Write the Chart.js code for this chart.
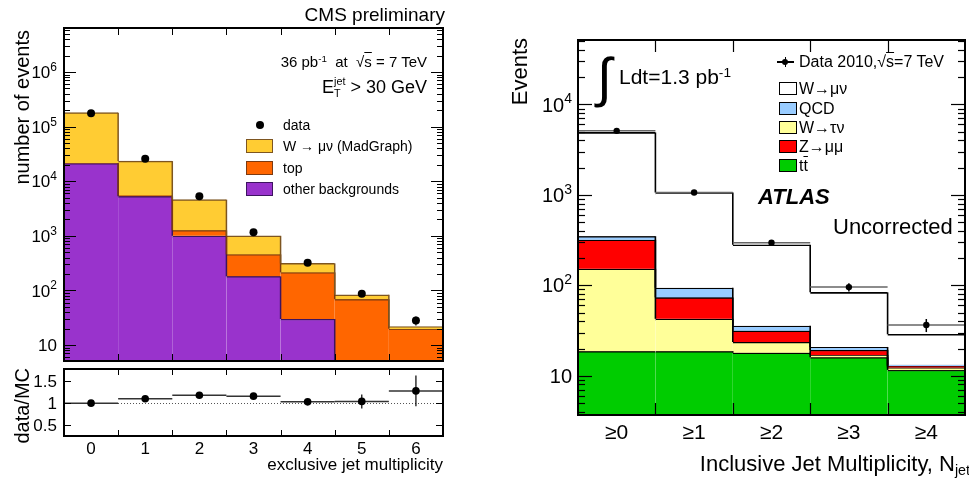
<!DOCTYPE html>
<html><head><meta charset="utf-8">
<script src="https://cdn.jsdelivr.net/npm/chart.js@4.4.1/dist/chart.umd.min.js"></script>
<style>
html,body{margin:0;padding:0;background:#fff;overflow:hidden;}
body{width:969px;height:480px;position:relative;font-family:"Liberation Sans",Arial,Helvetica,sans-serif;color:#000;}
canvas{position:absolute;left:0;top:0;}
.t{position:absolute;white-space:nowrap;line-height:1;}
.v{writing-mode:vertical-rl;transform:rotate(180deg);}
.sw{position:absolute;box-sizing:border-box;}
.sup{font-size:0.65em;position:relative;top:-0.55em;}
.ov{text-decoration:overline;}
</style></head><body>
<canvas id="cL" width="969" height="480"></canvas>
<canvas id="cRt" width="969" height="480"></canvas>
<canvas id="cR" width="969" height="480"></canvas>

<!-- left panel texts -->
<div class="t" style="right:524px;top:5px;font-size:19px">CMS preliminary</div>
<div class="t" style="right:542px;top:54px;font-size:15px">36 pb<span class="sup">-1</span>&nbsp; at &nbsp;√<span class="ov">s</span> = 7 TeV</div>
<div class="t" style="right:542px;top:78px;font-size:18px">E<span style="font-size:0.6em;position:relative;top:0.35em">T</span><span style="font-size:0.6em;position:relative;top:-0.75em;margin-left:-0.6em">jet</span> &gt; 30 GeV</div>
<div class="sw" style="left:256px;top:121px;width:8px;height:8px;border-radius:50%;background:#000"></div>
<div class="t" style="left:283px;top:118px;font-size:14px">data</div>
<div class="sw" style="left:246px;top:139px;width:27px;height:14px;background:#ffcc33;border:1.5px solid #7d5520"></div>
<div class="t" style="left:283px;top:139px;font-size:14px">W → μν (MadGraph)</div>
<div class="sw" style="left:246px;top:161px;width:27px;height:14px;background:#ff6600;border:1.5px solid #7d3a10"></div>
<div class="t" style="left:283px;top:161px;font-size:14px">top</div>
<div class="sw" style="left:246px;top:182px;width:27px;height:14px;background:#9933cc;border:1.5px solid #3d1460"></div>
<div class="t" style="left:283px;top:182px;font-size:14px">other backgrounds</div>
<div class="t v" style="left:12px;top:30px;font-size:20px">number of events</div>
<div class="t v" style="left:12px;top:368px;font-size:20px">data/MC</div>
<div class="t" style="right:526px;top:456px;font-size:17px">exclusive jet multiplicity</div>

<!-- right panel texts -->
<div class="t v" style="left:509px;top:38px;font-size:22px">Events</div>
<div class="t" style="left:597px;top:50px;font-size:54px">∫</div>
<div class="t" style="left:619px;top:66px;font-size:21px">Ldt=1.3 pb<span class="sup">-1</span></div>
<div class="sw" style="left:777px;top:61px;width:17px;height:1.5px;background:#000"></div>
<div class="sw" style="left:784.5px;top:57px;width:1.5px;height:10px;background:#000"></div>
<div class="sw" style="left:782px;top:59px;width:6px;height:6px;border-radius:50%;background:#000"></div>
<div class="t" style="left:799px;top:54px;font-size:16px">Data 2010,√<span class="ov">s</span>=7 TeV</div>
<div class="sw" style="left:779px;top:82px;width:18px;height:13px;background:#fff;border:1.5px solid #000"></div>
<div class="t" style="left:799px;top:81px;font-size:16px">W→μν</div>
<div class="sw" style="left:779px;top:102px;width:18px;height:13px;background:#99ccff;border:1.5px solid #000"></div>
<div class="t" style="left:799px;top:101px;font-size:16px">QCD</div>
<div class="sw" style="left:779px;top:121px;width:18px;height:13px;background:#ffff99;border:1.5px solid #000"></div>
<div class="t" style="left:799px;top:120px;font-size:16px">W→τν</div>
<div class="sw" style="left:779px;top:140px;width:18px;height:13px;background:#ff0000;border:1.5px solid #000"></div>
<div class="t" style="left:799px;top:139px;font-size:16px">Z→μμ</div>
<div class="sw" style="left:779px;top:159px;width:18px;height:13px;background:#00cc00;border:1.5px solid #000"></div>
<div class="t" style="left:799px;top:158px;font-size:16px">t<span class="ov">t</span></div>
<div class="t" style="left:758px;top:186px;font-size:22px;font-weight:bold;font-style:italic">ATLAS</div>
<div class="t" style="left:833px;top:216px;font-size:22px">Uncorrected</div>
<div class="t" style="right:-1px;top:453px;font-size:22px">Inclusive Jet Multiplicity, N<span style="font-size:0.65em;position:relative;top:0.3em">jet</span></div>

<script>
// ---------- data (left: CMS exclusive jet multiplicity) ----------
const leftBins = ['0','1','2','3','4','5','6'];
const leftWmunu = [158600, 17900, 3340, 543, 99, 14.5, 1.9];
const leftTop = [100, 200, 260, 276, 184, 66, 18.8];
const leftOther = [21300, 5300, 1000, 181, 30, 3, 1];
const leftData = [175000, 25700, 5300, 1160, 321, 87, 28];
const leftDataErr = [420, 160, 73, 34, 18, 9.3, 5.3];
const ratioVals = [0.99, 1.09, 1.17, 1.15, 1.02, 1.03, 1.27];
const ratioErr = [0.01, 0.01, 0.02, 0.03, 0.06, 0.16, 0.35];
const leftYTicks = [10, 100, 1000, 10000, 100000, 1000000];
const ratioYTicks = [0.5, 1, 1.5];

// ---------- data (right: ATLAS inclusive jet multiplicity) ----------
const rightBins = ['≥0','≥1','≥2','≥3','≥4'];
const rightTtbar = [18.6, 18.6, 18.0, 16.0, 11.6];
const rightWtaunu = [133.4, 24.0, 5.6, 1.0, 0.7];
const rightZmumu = [166, 30.9, 7.9, 2.3, 0.5];
const rightQCD = [31, 20.5, 4.2, 1.5, 0.4];
const rightWmunu = [4551, 966, 244.3, 62.7, 15.5];
const rightData = [5100, 1060, 295, 95.5, 36.4];
const rightDataErr = [71, 33, 17, 10, 6];
const rightYTicks = [10, 100, 1000, 10000];

const FF = '"Liberation Sans", Arial, Helvetica, sans-serif';
Chart.defaults.font.family = FF;

function stack(layers, floor){
  let cum = layers[0].map(()=>0);
  return layers.map(l=>{
    const r = l.map((v,i)=>[Math.max(cum[i], floor), cum[i]+v]);
    cum = cum.map((c,i)=>c+l[i]);
    return r;
  });
}
function line(ctx,x1,y1,x2,y2){ctx.beginPath();ctx.moveTo(x1,y1);ctx.lineTo(x2,y2);ctx.stroke();}
function edgesOf(chart){
  const xs=chart.scales.x, n=chart.data.labels.length;
  const c0=xs.getPixelForValue(0), c1=xs.getPixelForValue(1), w=c1-c0, e=[];
  for(let i=0;i<=n;i++) e.push(c0-w/2+i*w);
  return e;
}
function drawPow(ctx,v,xr,y,size,ex){
  const e=Math.round(Math.log10(v)), base=y+size*0.36;
  ctx.textBaseline='alphabetic'; ctx.textAlign='right';
  if(e===1){ctx.font=size+'px '+FF;ctx.fillText('10',xr,base);return;}
  ctx.font=ex+'px '+FF; const ew=ctx.measureText(String(e)).width;
  ctx.fillText(String(e),xr,base-size*0.42);
  ctx.font=size+'px '+FF; ctx.fillText('10',xr-ew,base);
}
function histPlugin(cfg){
  return {
    id:'hist_'+cfg.name,
    beforeDatasetDraw(chart,args){
      if(args.index!==cfg.pointsIndex) return;
      const ctx=chart.ctx, a=chart.chartArea, ys=chart.scales.y, e=edgesOf(chart);
      ctx.save();
      ctx.beginPath(); ctx.rect(a.left,a.top,a.right-a.left,a.bottom-a.top); ctx.clip();
      (cfg.steps||[]).forEach(s=>{
        ctx.strokeStyle=s.color; ctx.lineWidth=s.width;
        for(let i=1;i<s.tops.length;i++){
          const y1=Math.min(ys.getPixelForValue(s.tops[i-1]),a.bottom+5);
          const y2=Math.min(ys.getPixelForValue(s.tops[i]),a.bottom+5);
          line(ctx,e[i],y1,e[i],y2);
        }
      });
      if(cfg.dotted!==undefined){
        ctx.strokeStyle='#555'; ctx.lineWidth=1; ctx.setLineDash([1,2]);
        const y=Math.round(ys.getPixelForValue(cfg.dotted))+0.5; line(ctx,a.left,y,a.right,y);
        ctx.setLineDash([]);
      }
      ctx.restore();
      ctx.save();
      const meta=chart.getDatasetMeta(args.index), vals=chart.data.datasets[args.index].data;
      meta.data.forEach((pt,i)=>{
        if(cfg.xErr){ctx.strokeStyle=cfg.xErrColor;ctx.lineWidth=cfg.xErrWidth;line(ctx,e[i],pt.y,e[i+1],pt.y);}
        if(cfg.yErr){
          const v=vals[i], er=cfg.yErr[i];
          ctx.strokeStyle='#000'; ctx.lineWidth=cfg.errWidth;
          line(ctx,pt.x,ys.getPixelForValue(v+er),pt.x,ys.getPixelForValue(v-er));
        }
      });
      ctx.restore();
    },
    afterDraw(chart){
      const ctx=chart.ctx, a=chart.chartArea, ys=chart.scales.y, xs=chart.scales.x, e=edgesOf(chart), n=chart.data.labels.length;
      ctx.save(); ctx.strokeStyle='#000'; ctx.lineWidth=cfg.tickWidth;
      const yTick=(v,len)=>{const y=Math.round(ys.getPixelForValue(v))+0.5; line(ctx,a.left,y,a.left+len,y); line(ctx,a.right,y,a.right-len,y);};
      if(cfg.log){
        const lo=Math.floor(Math.log10(ys.min)), hi=Math.ceil(Math.log10(ys.max));
        for(let d=lo;d<=hi;d++) for(let m=1;m<10;m++){
          const v=m*Math.pow(10,d);
          if(v>=ys.min&&v<=ys.max) yTick(v,m===1?cfg.majorLen:cfg.minorLen);
        }
      } else cfg.yTicks.forEach(v=>yTick(v,cfg.majorLen));
      for(let i=1;i<n;i++){const x=Math.round(e[i])+0.5; line(ctx,x,a.bottom,x,a.bottom-cfg.xLen); line(ctx,x,a.top,x,a.top+cfg.xLen);}
      ctx.lineWidth=cfg.frameWidth; ctx.strokeRect(a.left,a.top,a.right-a.left,a.bottom-a.top);
      ctx.fillStyle='#000';
      cfg.yTicks.forEach(v=>{
        const y=ys.getPixelForValue(v);
        if(cfg.log) drawPow(ctx,v,a.left-cfg.labelGap,y,cfg.labelSize,cfg.expSize);
        else {ctx.font=cfg.labelSize+'px '+FF;ctx.textAlign='right';ctx.textBaseline='alphabetic';ctx.fillText(String(v),a.left-cfg.labelGap,y+cfg.labelSize*0.36);}
      });
      if(cfg.xLabelY){
        ctx.font=cfg.xLabelSize+'px '+FF; ctx.textAlign='center'; ctx.textBaseline='alphabetic';
        chart.data.labels.forEach((l,i)=>ctx.fillText(l,xs.getPixelForValue(i),cfg.xLabelY));
      }
      ctx.restore();
    }
  };
}
const common = {responsive:false, animation:false, devicePixelRatio:1, events:[],
  plugins:{legend:{display:false}, tooltip:{enabled:false}}};

// ---------- left main ----------
const L = stack([leftOther, leftTop, leftWmunu], 0.01);
new Chart(document.getElementById('cL'), {
  type:'bar',
  data:{labels:leftBins, datasets:[
    {type:'line', label:'data', data:leftData, showLine:false, pointRadius:4, pointBackgroundColor:'#000', pointBorderColor:'#000', pointBorderWidth:0, order:0, clip:false},
    {label:'W → μν (MadGraph)', data:L[2], backgroundColor:'#ffcc33', borderColor:'#7d5520', order:1},
    {label:'top', data:L[1], backgroundColor:'#ff6600', borderColor:'#7d3a10', order:2},
    {label:'other backgrounds', data:L[0], backgroundColor:'#9933cc', borderColor:'#3d1460', order:3}
  ]},
  options:Object.assign({}, common, {
    layout:{padding:{left:64,right:526,top:28,bottom:119}},
    datasets:{bar:{grouped:false, categoryPercentage:1, barPercentage:1, borderSkipped:false, borderWidth:{top:1.5,left:0,right:0,bottom:0}, clip:0}},
    scales:{x:{display:false, offset:true}, y:{type:'logarithmic', display:false, min:5.1, max:6.4e6}}
  }),
  plugins:[histPlugin({name:'L', pointsIndex:0, yErr:leftDataErr, errWidth:1.2,
    steps:[{tops:L[0].map(r=>r[1]), color:'#3d1460', width:1.5},{tops:L[1].map(r=>r[1]), color:'#7d3a10', width:1.5},{tops:L[2].map(r=>r[1]), color:'#7d5520', width:1.5}],
    log:true, majorLen:12, minorLen:6, xLen:7, tickWidth:1, frameWidth:2, yTicks:leftYTicks, labelGap:7, labelSize:17, expSize:12})]
});

// ---------- left ratio ----------
new Chart(document.getElementById('cRt'), {
  type:'line',
  data:{labels:leftBins, datasets:[
    {label:'data/MC', data:ratioVals, showLine:false, pointRadius:3.8, pointBackgroundColor:'#000', pointBorderColor:'#000', pointBorderWidth:0, clip:false}
  ]},
  options:Object.assign({}, common, {
    layout:{padding:{left:64,right:526,top:369,bottom:44}},
    scales:{x:{display:false, offset:true}, y:{display:false, min:0.24, max:1.77}}
  }),
  plugins:[histPlugin({name:'Rt', pointsIndex:0, yErr:ratioErr, errWidth:1.2, xErr:true, xErrColor:'#333', xErrWidth:1.5, dotted:1,
    log:false, majorLen:7, xLen:6, tickWidth:1, frameWidth:2, yTicks:ratioYTicks, labelGap:7, labelSize:17,
    xLabelY:454, xLabelSize:17})]
});

// ---------- right ----------
const R = stack([rightTtbar, rightWtaunu, rightZmumu, rightQCD, rightWmunu], 0.01);
new Chart(document.getElementById('cR'), {
  type:'bar',
  data:{labels:rightBins, datasets:[
    {type:'line', label:'Data 2010, √s=7 TeV', data:rightData, showLine:false, pointRadius:3.2, pointBackgroundColor:'#000', pointBorderColor:'#000', pointBorderWidth:0, order:0, clip:false},
    {label:'W→μν', data:R[4], backgroundColor:'#ffffff', borderColor:'#000', order:1},
    {label:'QCD', data:R[3], backgroundColor:'#99ccff', borderColor:'#000', order:2},
    {label:'Z→μμ', data:R[2], backgroundColor:'#ff0000', borderColor:'#000', order:3},
    {label:'W→τν', data:R[1], backgroundColor:'#ffff99', borderColor:'#000', order:4},
    {label:'tt̄', data:R[0], backgroundColor:'#00cc00', borderColor:'#000', order:5}
  ]},
  options:Object.assign({}, common, {
    layout:{padding:{left:578,right:0,top:40,bottom:65}},
    datasets:{bar:{grouped:false, categoryPercentage:1, barPercentage:1, borderSkipped:false, borderWidth:{top:1.6,left:0,right:0,bottom:0}, clip:0}},
    scales:{x:{display:false, offset:true}, y:{type:'logarithmic', display:false, min:3.68, max:51500}}
  }),
  plugins:[histPlugin({name:'R', pointsIndex:0, yErr:rightDataErr, errWidth:1.5, xErr:true, xErrColor:'#666', xErrWidth:1.5,
    steps:R.map(r=>({tops:r.map(q=>q[1]), color:'#000', width:1.6})),
    log:true, majorLen:14, minorLen:7, xLen:12, tickWidth:1.2, frameWidth:2, yTicks:rightYTicks, labelGap:6, labelSize:20, expSize:14,
    xLabelY:438.5, xLabelSize:21})]
});
</script>
</body></html>
